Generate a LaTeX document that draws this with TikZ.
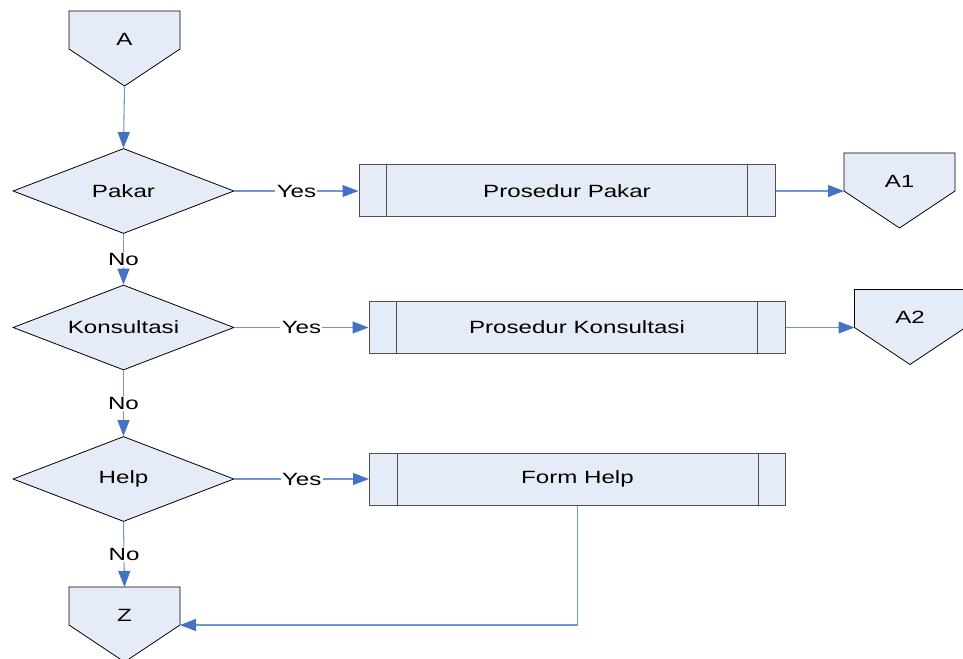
\documentclass[tikz,border=0pt]{standalone}
\usepackage{fontspec}
\setmainfont[FakeStretch=1.36]{Liberation Sans}
\usetikzlibrary{shapes.geometric,arrows.meta}

\definecolor{boxfill}{RGB}{230,236,247}
\definecolor{flowline}{RGB}{110,150,210}
\definecolor{flowtip}{RGB}{68,114,196}
\definecolor{boxedge}{RGB}{80,80,80}

\tikzset{
  every node/.style={font=\fontsize{13.3}{16}\selectfont},
  decision/.style={diamond, draw=black, line width=0.6pt, fill=boxfill,
    minimum width=165.75pt, minimum height=63.75pt, inner sep=0pt, aspect=2.6},
  subproc/.style={rectangle, draw=boxedge, line width=0.75pt, fill=boxfill,
    minimum width=312pt, minimum height=39pt, inner sep=0pt},
  offshape/.style={draw=black, line width=0.6pt, fill=boxfill},
  offtext/.style={inner sep=0pt},
  flow/.style={draw=flowline, line width=0.8pt,
    -{Triangle[length=12pt, width=9pt, color=flowtip]}},
  flowlabel/.style={fill=white, inner sep=1pt, text=black},
}

% off-page connector: name, centre x, top y, text
\newcommand\offpage[4]{%
  \path[offshape] (#2-55.5,#3) -- (#2+55.5,#3) -- (#2+55.5,#3+38)
    -- (#2,#3+75) -- (#2-55.5,#3+38) -- cycle;
  \coordinate (#1-top) at (#2,#3);
  \coordinate (#1-left) at (#2-55.5,#3+38);
  \coordinate (#1-right) at (#2+55.5,#3+38);
  \coordinate (#1-tip) at (#2,#3+75);
  \node[offtext] (#1) at (#2,#3+28) {#4};
}

% sub-process box with inner side bars: name, centre, text
\newcommand\subprocess[3]{%
  \node[subproc] (#1) at (#2) {#3};
  \draw[boxedge, line width=0.75pt]
    ([xshift=21pt]#1.north west) -- ([xshift=21pt]#1.south west)
    ([xshift=-21pt]#1.north east) -- ([xshift=-21pt]#1.south east);
}

\begin{document}
\begin{tikzpicture}[x=0.75pt, y=-0.75pt]
  \useasboundingbox (0,0) rectangle (963,659);
  \clip (0,0) rectangle (963,659);

  % connectors
  \offpage{A}{124.5}{11}{A}
  \offpage{A1}{899.5}{153}{A1}
  \offpage{A2}{910}{289.5}{A2}
  \offpage{Z}{124.5}{587}{Z}

  % decisions
  \node[decision] (pakar) at (123.5,191) {Pakar};
  \node[decision] (konsul) at (123.5,327.5) {Konsultasi};
  \node[decision] (help) at (123.5,479) {Help};

  % sub-processes
  \subprocess{ppakar}{567,191}{Prosedur Pakar}
  \subprocess{pkonsul}{577,327.5}{Prosedur Konsultasi}
  \subprocess{fhelp}{577.5,479}{Form Help}

  % flow
  \draw[flow] (A-tip) -- (pakar.north);
  \draw[flow] (pakar.south) -- node[flowlabel] {No} (konsul.north);
  \draw[flow] (konsul.south) -- node[flowlabel] {No} (help.north);
  \draw[flow] (help.south) -- node[flowlabel] {No} (Z-top);

  \draw[flow] (pakar.east) -- node[flowlabel] {Yes} (ppakar.west);
  \draw[flow] (konsul.east) -- node[flowlabel] {Yes} (pkonsul.west);
  \draw[flow] (help.east) -- node[flowlabel] {Yes} (fhelp.west);

  \draw[flow] (ppakar.east) -- (A1-left);
  \draw[flow] (pkonsul.east) -- (A2-left);
  \draw[flow] (fhelp.south) |- (Z-right);
\end{tikzpicture}
\end{document}
